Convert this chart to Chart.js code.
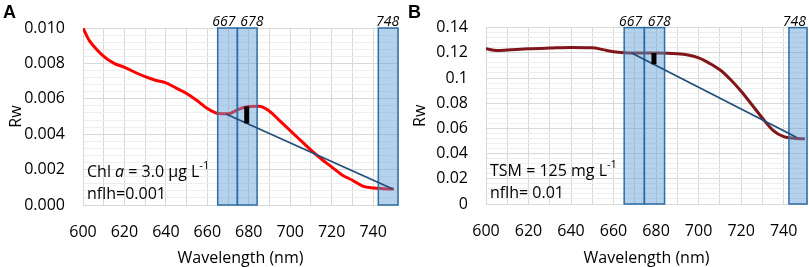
<!DOCTYPE html>
<html>
<head>
<meta charset="utf-8">
<script src="https://cdn.jsdelivr.net/npm/chart.js@4.4.1/dist/chart.umd.min.js"></script>
<style>
  body { margin: 0; background: #fff; }
  #wrap { position: relative; width: 809px; height: 267px; }
  canvas { position: absolute; top: 0; }
  #chartA { left: 0; }
  #chartB { left: 404px; }
</style>
</head>
<body>
<div id="wrap">
  <canvas id="chartA" width="404" height="267"></canvas>
  <canvas id="chartB" width="405" height="267"></canvas>
</div>
<script>
// panel A: Chl a spectrum
const wavelengthA = [600, 603, 605, 610, 615, 620, 625, 630, 635, 640, 645, 650, 655, 660, 665, 670, 675, 680, 685, 690, 695, 700, 705, 710, 715, 720, 725, 730, 735, 740, 745, 750];
const rwA = [0.0100, 0.0093, 0.0090, 0.0084, 0.0080, 0.00778, 0.0075, 0.00725, 0.00705, 0.0069, 0.0066, 0.0063, 0.0059, 0.00545, 0.00517, 0.00515, 0.0054, 0.00557, 0.00558, 0.0053, 0.00475, 0.0042, 0.00365, 0.0031, 0.0026, 0.00215, 0.0017, 0.0014, 0.00107, 0.00096, 0.00092, 0.0009];
const baseWlA = [669, 749.5];
const baseRwA = [0.00514, 0.0009];
const flhWlA = [679, 679];
const flhRwA = [0.00461, 0.00557];

// panel B: TSM spectrum
const wavelengthB = [600, 605, 610, 620, 630, 640, 650, 655, 660, 665, 670, 680, 690, 695, 700, 705, 710, 715, 720, 725, 730, 735, 740, 745, 750];
const rwB = [0.1232, 0.1218, 0.1222, 0.1232, 0.1238, 0.1243, 0.1241, 0.1225, 0.1208, 0.1200, 0.1198, 0.1198, 0.1193, 0.1183, 0.1160, 0.1118, 0.1065, 0.0988, 0.0895, 0.0790, 0.0682, 0.0585, 0.0535, 0.0522, 0.0517];
const baseWlB = [668.5, 746];
const baseRwB = [0.1199, 0.0530];
const flhWlB = [679, 679];
const flhRwB = [0.1109, 0.1198];

// MODIS-like bands
const bandLo = [665, 674.5, 742.5];
const bandHi = [674.5, 684, 753];
const bandNames = ['667', '678', '748'];
const bandNameAt = [668, 681.5, 747];

const FONT = "'Open Sans', sans-serif";

function pts(xs, ys) {
  return xs.map((x, i) => ({ x: x, y: ys[i] }));
}

function isMult(v, step) {
  return Math.abs(v / step - Math.round(v / step)) < 1e-6;
}

function makeChart(id, cfg) {
  const overlay = {
    id: 'overlay',
    afterDatasetDraw(chart, args) {
      if (args.index !== 0) return;
      // bands go over the spectrum but under the baseline
      const ctx = chart.ctx, a = chart.chartArea, xs = chart.scales.x;
      ctx.save();
      bandLo.forEach((lo, i) => {
        const x0 = Math.max(a.left, xs.getPixelForValue(lo));
        const x1 = Math.min(a.right, xs.getPixelForValue(bandHi[i]));
        ctx.fillStyle = 'rgba(91,155,213,0.45)';
        ctx.fillRect(x0, a.top, x1 - x0, a.bottom - a.top);
        ctx.strokeStyle = '#2e6ca4';
        ctx.lineWidth = 1.5;
        ctx.strokeRect(x0, a.top, x1 - x0, a.bottom - a.top);
      });
      ctx.restore();
    },
    afterDraw(chart) {
      const ctx = chart.ctx, a = chart.chartArea, xs = chart.scales.x;
      ctx.save();
      // band names
      ctx.font = 'italic 14px ' + FONT;
      ctx.fillStyle = '#000';
      ctx.textAlign = 'center';
      ctx.textBaseline = 'alphabetic';
      bandNames.forEach((t, i) => {
        const w = ctx.measureText(t).width;
        let x = xs.getPixelForValue(bandNameAt[i]);
        x = Math.min(x, chart.width - w / 2 - 3);
        ctx.fillText(t, x, a.top - 2);
      });
      // panel letter
      ctx.font = "bold 18px 'Liberation Sans', Arial, sans-serif";
      ctx.textAlign = 'left';
      ctx.fillText(cfg.letter, cfg.letterX, 18);
      // note text
      ctx.textBaseline = 'middle';
      cfg.notes.forEach((line, li) => {
        let x = a.left + 4;
        const y = a.bottom + (li === 0 ? -33 : -11);
        line.forEach(seg => {
          const [t, s] = seg;
          if (s === 's') {
            ctx.font = '11px ' + FONT;
            ctx.fillText(t, x, y - 6);
          } else {
            ctx.font = (s === 'i' ? 'italic ' : '') + '16px ' + FONT;
            ctx.fillText(t, x, y);
          }
          x += ctx.measureText(t).width;
        });
      });
      ctx.restore();
    }
  };

  return new Chart(document.getElementById(id), {
    type: 'scatter',
    data: {
      datasets: [
        {
          data: pts(cfg.wl, cfg.rw),
          showLine: true,
          borderColor: cfg.color,
          borderWidth: 3,
          pointRadius: 0,
          cubicInterpolationMode: 'monotone',
          order: 3
        },
        {
          data: pts(cfg.baseWl, cfg.baseRw),
          showLine: true,
          borderColor: '#1f4e79',
          borderWidth: 1.75,
          pointRadius: 0,
          order: 2
        },
        {
          data: pts(cfg.flhWl, cfg.flhRw),
          showLine: true,
          borderColor: '#000',
          borderWidth: 5,
          borderCapStyle: 'butt',
          pointRadius: 0,
          order: 1
        }
      ]
    },
    options: {
      responsive: false,
      animation: false,
      events: [],
      layout: { padding: { top: cfg.top, right: cfg.right, left: 0, bottom: 0 } },
      plugins: { legend: { display: false }, tooltip: { enabled: false } },
      scales: {
        x: {
          type: 'linear',
          min: 600,
          max: cfg.xMax,
          afterFit: s => { s.height = cfg.xAxisH; },
          border: { color: '#d9d9d9' },
          grid: {
            drawTicks: true,
            tickLength: 16,
            tickColor: 'rgba(0,0,0,0)',
            color: c => (isMult(c.tick.value, 10) || c.tick.value === cfg.xMax) ? '#d9d9d9' : 'rgba(0,0,0,0)'
          },
          ticks: {
            stepSize: 10,
            autoSkip: false,
            maxRotation: 0,
            maxTicksLimit: 1000,
            padding: 2,
            color: '#000',
            font: { family: FONT, size: 16 },
            callback: v => isMult(v, 20) ? String(v) : ''
          },
          title: {
            display: true,
            text: 'Wavelength (nm)',
            color: '#000',
            font: { family: FONT, size: 16 },
            padding: { top: 0, bottom: -1 }
          }
        },
        y: {
          min: 0,
          max: cfg.yMax,
          afterFit: s => { s.width = cfg.yAxisW; },
          border: { color: '#d9d9d9' },
          grid: {
            drawTicks: false,
            color: c => isMult(c.tick.value, cfg.yStep) ? '#d9d9d9' : '#eeeeee'
          },
          ticks: {
            stepSize: cfg.yMinor,
            autoSkip: false,
            maxTicksLimit: 1000,
            padding: 18,
            color: '#000',
            font: { family: FONT, size: 16 },
            callback: v => isMult(v, cfg.yStep) ? cfg.fmt(v) : ''
          },
          title: {
            display: true,
            text: 'Rw',
            color: '#000',
            font: { family: FONT, size: 16 },
            padding: { top: 7, bottom: 0 }
          }
        }
      }
    },
    plugins: [overlay]
  });
}

makeChart('chartA', {
  wl: wavelengthA, rw: rwA, baseWl: baseWlA, baseRw: baseRwA, flhWl: flhWlA, flhRw: flhRwA,
  color: '#ff0000', xMax: 752, yMax: 0.010, yStep: 0.002, yMinor: 0.0004,
  fmt: v => v.toFixed(3),
  top: 28, right: 6, xAxisH: 62, yAxisW: 83,
  letter: 'A', letterX: 3,
  notes: [[['Chl ', ''], ['a', 'i'], [' = 3.0 µg L', ''], ['-1', 's']], [['nflh=0.001', '']]]
});

makeChart('chartB', {
  wl: wavelengthB, rw: rwB, baseWl: baseWlB, baseRw: baseRwB, flhWl: flhWlB, flhRw: flhRwB,
  color: '#80161a', xMax: 751, yMax: 0.14, yStep: 0.02, yMinor: 0.004,
  fmt: v => String(parseFloat(v.toFixed(2))),
  top: 27, right: 2, xAxisH: 63, yAxisW: 82,
  letter: 'B', letterX: 4,
  notes: [[['TSM = 125 mg L', ''], ['-1', 's']], [['nflh= 0.01', '']]]
});
</script>
</body>
</html>
